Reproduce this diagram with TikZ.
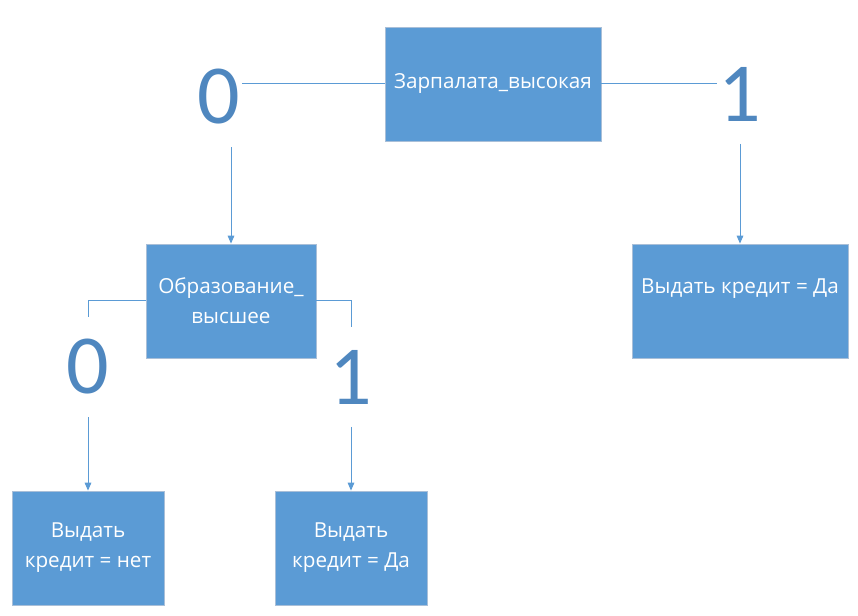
\documentclass[tikz,border=0pt]{standalone}
\usepackage{fontspec}
\setmainfont{Open Sans}
\newfontfamily\digitfont{Carlito}
\usetikzlibrary{arrows.meta, positioning}
\definecolor{boxblue}{HTML}{5B9BD5}
\definecolor{boxedge}{HTML}{A9BFD8}
\definecolor{digitblue}{HTML}{4F87BF}

\begin{document}
\begin{tikzpicture}[
    x=0.75pt, y=-0.75pt,
    font=\fontsize{15.5}{22.5}\selectfont,
    block/.style={rectangle, draw=boxedge, line width=0.6pt, fill=boxblue,
                  text=white, minimum width=#1, minimum height=85.5pt,
                  align=center, inner sep=2pt},
    digit/.style={text=digitblue, font=\digitfont\fontsize{63}{63}\selectfont,
                  inner xsep=1pt, inner ysep=17pt},
    link/.style={boxblue, line width=0.75pt},
    arr/.style={link, -{Triangle[length=6pt, width=5pt]}}
  ]
  \useasboundingbox (0,0) rectangle (858,616);

  \node[block=162pt]   (salary) at (493,84)  {Зарпалата\_высокая};
  \node[block=127.5pt] (edu)    at (231,301) {Образование\_\\высшее};
  \node[block=162pt]   (yes)    at (740,301) {Выдать кредит = Да\\\mbox{}};
  \node[block=114pt]   (no2)    at (88,548)  {Выдать\\кредит = нет};
  \node[block=114pt]   (yes2)   at (351,548) {Выдать\\кредит = Да};

  \node[digit] (s0) at (219,97)  {0};
  \node[digit] (s1) at (740,94)  {1};
  \node[digit] (e0) at (88,367)  {0};
  \node[digit] (e1) at (351,377) {1};

  % first split
  \draw[link] (salary.west) -- (salary.west -| s0.east);
  \draw[link] (salary.east) -- (salary.east -| s1.west);
  \draw[arr] (s0.south -| edu.north) -- (edu.north);
  \draw[arr] (s1.south) -- (yes.north);

  % second split
  \draw[link] (edu.west) -| (e0.north);
  \draw[link] (edu.east) -| (e1.north);
  \draw[arr] (e0.south) -- (no2.north);
  \draw[arr] (e1.south) -- (yes2.north);

\end{tikzpicture}
\end{document}
